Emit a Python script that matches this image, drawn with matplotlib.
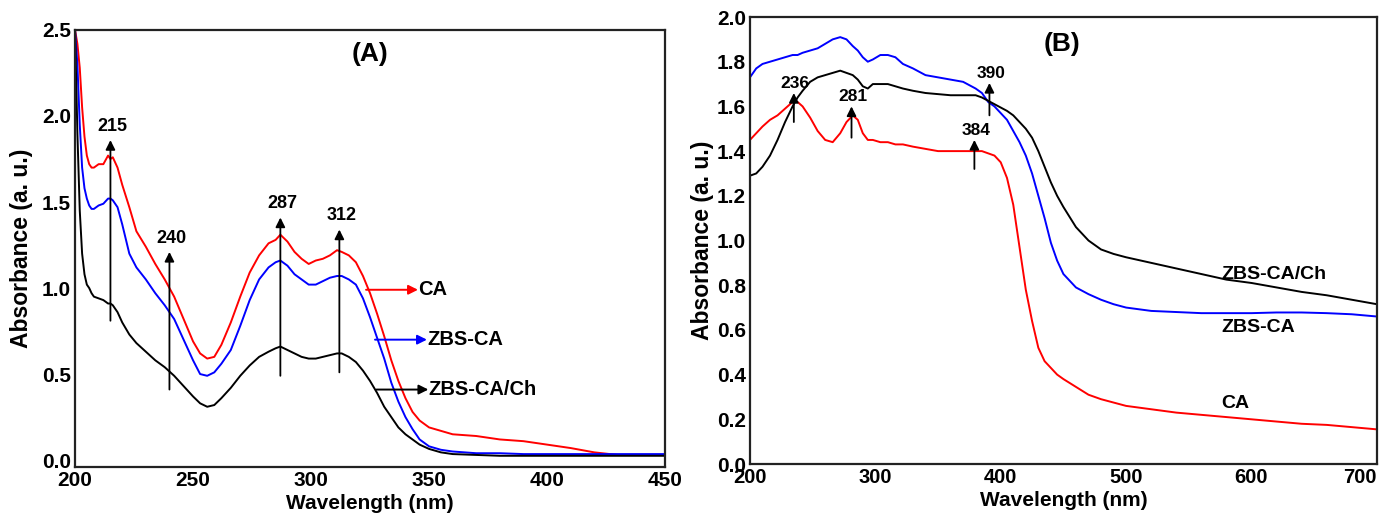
import numpy as np
import matplotlib
matplotlib.use("Agg")
import matplotlib.pyplot as plt

plt.rcParams['font.family'] = ['Liberation Sans', 'DejaVu Sans']
plt.rcParams['font.weight'] = 'bold'

# ---- panel (A) data ----
A_WL = [200, 201, 202, 203, 204, 205, 206, 207, 208, 210, 212, 214, 215, 216, 218, 220,
        223, 226, 230, 234, 238, 242, 246, 250, 253, 256, 259, 262, 266, 270, 274, 278,
        282, 285, 287, 290, 293, 296, 299, 302, 305, 308, 311, 313, 316, 319, 322, 325,
        328, 331, 334, 337, 340, 343, 346, 350, 355, 360, 370, 380, 390, 400, 410, 420,
        430, 440, 450]
A_CA = [2.50, 2.42, 2.28, 2.05, 1.88, 1.77, 1.72, 1.70, 1.70, 1.72, 1.72, 1.77, 1.75, 1.76, 1.70, 1.60,
        1.47, 1.33, 1.24, 1.14, 1.05, 0.95, 0.82, 0.69, 0.62, 0.59, 0.60, 0.67, 0.80, 0.95, 1.09, 1.19,
        1.26, 1.28, 1.31, 1.27, 1.21, 1.17, 1.14, 1.16, 1.17, 1.19, 1.22, 1.21, 1.19, 1.15, 1.07, 0.97,
        0.85, 0.72, 0.58, 0.46, 0.36, 0.28, 0.23, 0.19, 0.17, 0.15, 0.14, 0.12, 0.11, 0.09, 0.07, 0.045,
        0.03, 0.03, 0.03]
A_ZBS = [2.50, 2.30, 1.95, 1.70, 1.58, 1.52, 1.48, 1.46, 1.46, 1.48, 1.49, 1.52, 1.52, 1.51, 1.47, 1.37,
         1.20, 1.12, 1.05, 0.97, 0.90, 0.82, 0.70, 0.58, 0.50, 0.49, 0.51, 0.56, 0.64, 0.78, 0.93, 1.05,
         1.12, 1.15, 1.16, 1.13, 1.08, 1.05, 1.02, 1.02, 1.04, 1.06, 1.07, 1.07, 1.05, 1.02, 0.94, 0.83,
         0.71, 0.59, 0.45, 0.34, 0.25, 0.18, 0.12, 0.08, 0.06, 0.05, 0.04, 0.04, 0.035, 0.035, 0.035, 0.035,
         0.035, 0.035, 0.035]
A_ZBSCH = [2.50, 1.90, 1.45, 1.20, 1.08, 1.02, 1.00, 0.97, 0.95, 0.94, 0.93, 0.91, 0.91, 0.90, 0.86, 0.80,
           0.73, 0.68, 0.63, 0.58, 0.54, 0.49, 0.43, 0.37, 0.33, 0.31, 0.32, 0.36, 0.42, 0.49, 0.55, 0.60,
           0.63, 0.65, 0.66, 0.64, 0.62, 0.60, 0.59, 0.59, 0.60, 0.61, 0.62, 0.62, 0.60, 0.57, 0.52, 0.46,
           0.39, 0.31, 0.25, 0.19, 0.15, 0.12, 0.09, 0.065, 0.045, 0.035, 0.03, 0.025, 0.025, 0.025, 0.025, 0.025,
           0.025, 0.025, 0.025]
A_PEAKS = [215, 240, 287, 312]
A_PEAK_TIP = [1.86, 1.21, 1.41, 1.34]
A_PEAK_BASE = [0.81, 0.41, 0.49, 0.51]

# ---- panel (B) data ----
B_WL = [200, 205, 210, 216, 222, 228, 234, 238, 242, 248, 254, 260, 266, 272, 277, 282, 286, 290,
        294, 298, 304, 310, 316, 322, 330, 340, 350, 360, 370, 380, 385, 390, 395, 400, 405, 410,
        415, 420, 425, 430, 435, 440, 445, 450, 460, 470, 480, 490, 500, 520, 540, 560, 580, 600,
        620, 640, 660, 680, 700]
B_CA = [1.45, 1.48, 1.51, 1.54, 1.56, 1.59, 1.62, 1.62, 1.60, 1.55, 1.49, 1.45, 1.44, 1.48, 1.53, 1.56, 1.54, 1.48,
        1.45, 1.45, 1.44, 1.44, 1.43, 1.43, 1.42, 1.41, 1.40, 1.40, 1.40, 1.40, 1.40, 1.39, 1.38, 1.35, 1.28, 1.16,
        0.97, 0.78, 0.64, 0.52, 0.46, 0.43, 0.40, 0.38, 0.345, 0.31, 0.29, 0.275, 0.26, 0.245, 0.23, 0.22, 0.21, 0.20,
        0.19, 0.18, 0.175, 0.165, 0.155]
B_ZBS = [1.73, 1.77, 1.79, 1.80, 1.81, 1.82, 1.83, 1.83, 1.84, 1.85, 1.86, 1.88, 1.90, 1.91, 1.90, 1.87, 1.85, 1.82,
         1.80, 1.81, 1.83, 1.83, 1.82, 1.79, 1.77, 1.74, 1.73, 1.72, 1.71, 1.68, 1.66, 1.62, 1.60, 1.57, 1.54, 1.49,
         1.44, 1.38, 1.30, 1.20, 1.10, 0.99, 0.91, 0.85, 0.79, 0.76, 0.735, 0.715, 0.70, 0.685, 0.68, 0.675, 0.675, 0.675,
         0.678, 0.678, 0.675, 0.67, 0.66]
B_ZBSCH = [1.29, 1.30, 1.33, 1.38, 1.45, 1.53, 1.60, 1.64, 1.67, 1.71, 1.73, 1.74, 1.75, 1.76, 1.75, 1.74, 1.72, 1.69,
           1.68, 1.70, 1.70, 1.70, 1.69, 1.68, 1.67, 1.66, 1.655, 1.65, 1.65, 1.65, 1.64, 1.625, 1.61, 1.595, 1.58, 1.56,
           1.53, 1.50, 1.46, 1.40, 1.33, 1.26, 1.20, 1.15, 1.06, 1.00, 0.96, 0.94, 0.925, 0.90, 0.875, 0.85, 0.825, 0.81,
           0.79, 0.77, 0.755, 0.735, 0.715]
B_PEAKS = [236, 281, 384, 390]
B_PEAK_X = [235, 281, 379, 391]
B_PEAK_TIP = [1.66, 1.60, 1.45, 1.705]
B_PEAK_BASE = [1.53, 1.46, 1.32, 1.56]

fig = plt.figure(figsize=(13.87, 5.22), dpi=100)
axA = fig.add_axes([0.0541, 0.1054, 0.4254, 0.8372])
axB = fig.add_axes([0.5407, 0.1111, 0.4520, 0.8563])

arrow = dict(arrowstyle='-|>', color='k', lw=1.3, mutation_scale=14, shrinkA=0, shrinkB=0)

# (A)
axA.plot(A_WL, A_CA, color='red', lw=1.4)
axA.plot(A_WL, A_ZBS, color='blue', lw=1.4)
axA.plot(A_WL, A_ZBSCH, color='black', lw=1.4)
for x, tip, base in zip(A_PEAKS, A_PEAK_TIP, A_PEAK_BASE):
    axA.annotate('', xy=(x, tip), xytext=(x, base), arrowprops=arrow)
    axA.text(x + 1, tip + 0.03, str(x), ha='center', va='bottom', fontsize=13, fontweight='bold')

# curve labels with coloured arrows
for lbl, col, x0, y in [('CA', 'red', 323.3, 0.99), ('ZBS-CA', 'blue', 327.1, 0.70),
                        ('ZBS-CA/Ch', 'black', 327.7, 0.41)]:
    axA.annotate('', xy=(x0 + 22, y), xytext=(x0, y),
                 arrowprops=dict(arrowstyle='-|>', color=col, lw=1.4, mutation_scale=14, shrinkA=0, shrinkB=0))
    axA.text(x0 + 22, y, lbl, ha='left', va='center', fontsize=14.5, fontweight='bold')

axA.text(325, 2.36, '(A)', ha='center', va='center', fontsize=19, fontweight='bold')
axA.set_xlim(200, 450)
axA.set_ylim(-0.04, 2.5)
axA.set_xticks([200, 250, 300, 350, 400, 450])
axA.set_yticks([0.0, 0.5, 1.0, 1.5, 2.0, 2.5])
axA.set_yticklabels(['0.0', '0.5', '1.0', '1.5', '2.0', '2.5'])
axA.set_xlabel('Wavelength (nm)', fontsize=15, fontweight='bold', labelpad=3)
axA.set_ylabel('Absorbance (a. u.)', fontsize=16.5, fontweight='bold', labelpad=6)

# (B)
axB.plot(B_WL, B_CA, color='red', lw=1.4)
axB.plot(B_WL, B_ZBS, color='blue', lw=1.4)
axB.plot(B_WL, B_ZBSCH, color='black', lw=1.4)
for lbl, x, tip, base in zip(B_PEAKS, B_PEAK_X, B_PEAK_TIP, B_PEAK_BASE):
    axB.annotate('', xy=(x, tip), xytext=(x, base), arrowprops=arrow)
    axB.text(x + 1, tip + 0.01, str(lbl), ha='center', va='bottom', fontsize=12.5, fontweight='bold')

axB.text(576, 0.85, 'ZBS-CA/Ch', ha='left', va='center', fontsize=14, fontweight='bold')
axB.text(576, 0.61, 'ZBS-CA', ha='left', va='center', fontsize=14, fontweight='bold')
axB.text(576, 0.27, 'CA', ha='left', va='center', fontsize=14, fontweight='bold')
axB.text(449, 1.88, '(B)', ha='center', va='center', fontsize=19, fontweight='bold')
axB.set_xlim(200, 700)
axB.set_ylim(0, 2.0)
axB.set_xticks([200, 300, 400, 500, 600, 700])
axB.set_yticks(np.arange(0, 2.01, 0.2))
axB.set_yticklabels(['%.1f' % v for v in np.arange(0, 2.01, 0.2)])
axB.set_xlabel('Wavelength (nm)', fontsize=15, fontweight='bold', labelpad=3)
axB.set_ylabel('Absorbance (a. u.)', fontsize=16.5, fontweight='bold', labelpad=2)

for ax in (axA, axB):
    ax.tick_params(length=0, labelsize=15, pad=3)
    for lab in ax.get_xticklabels() + ax.get_yticklabels():
        lab.set_fontweight('bold')
    for sp in ax.spines.values():
        sp.set_linewidth(1.6)
        sp.set_color('#222222')
axB.tick_params(axis='x', labelsize=14.5)
# keep the last tick label of (B) inside the figure
axB.get_xticklabels()[-1].set_horizontalalignment('right')

fig.savefig('out.png', dpi=100)
